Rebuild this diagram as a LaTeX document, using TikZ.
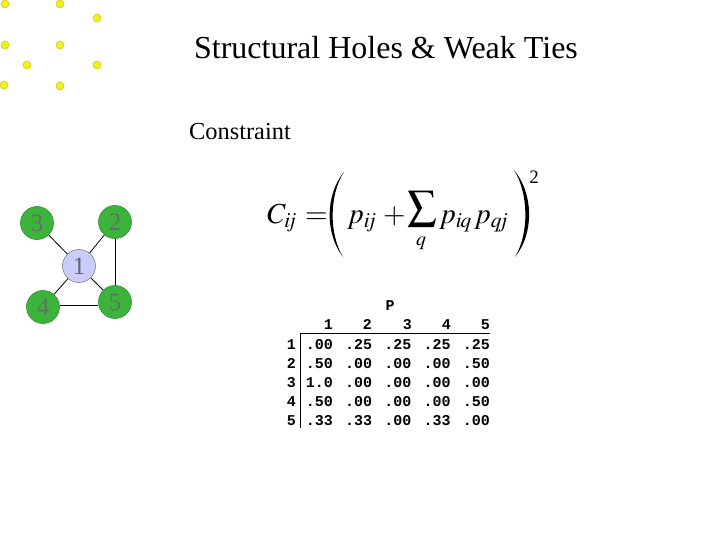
\documentclass[tikz,border=0pt]{standalone}
\usepackage{amsmath}
\usepackage{mathptmx}
\usepackage{fontspec}
\setmainfont{Liberation Serif}
\newfontfamily\tablefont{Liberation Mono}
\begin{document}
\begin{tikzpicture}[x=1pt,y=-1pt,
  dot/.style={circle,fill={rgb,255:red,240;green,240;blue,30},draw={rgb,255:red,205;green,205;blue,20},line width=0.6pt,inner sep=0pt,minimum size=8pt},
  gnode/.style={circle,fill={rgb,255:red,60;green,180;blue,60},draw={rgb,255:red,50;green,140;blue,50},line width=0.6pt,inner sep=0pt,minimum size=33pt,text={rgb,255:red,100;green,110;blue,100},font=\fontsize{25}{25}\selectfont},
  cnode/.style={circle,fill={rgb,255:red,204;green,204;blue,250},draw={rgb,255:red,130;green,130;blue,150},line width=0.6pt,inner sep=0pt,minimum size=33pt,text={rgb,255:red,100;green,100;blue,110},font=\fontsize{25}{25}\selectfont},
  edge/.style={draw=black,line width=0.8pt},
  mth/.style={inner sep=0pt,anchor=base west,font=\fontsize{29}{31}\selectfont},
  tab/.style={font=\tablefont\bfseries\fontsize{15}{15}\selectfont,anchor=base east,inner sep=0pt}]
\useasboundingbox (0,0) rectangle (720,540);
\fill[white] (0,0) rectangle (720,540);
% decorative dots
\foreach \i/\x/\y in {a/5/4,b/60/4,c/97/18,d/5/45,e/60/45,f/27/65,g/97/65,h/4/85,k/60/86}
  \node[dot] (dot\i) at (\x,\y) {};
% title
\node[font=\fontsize{32}{34}\selectfont,inner sep=0pt] (title) at (386,48) {Structural Holes \& Weak Ties};
\node[font=\fontsize{24.4}{26}\selectfont,inner sep=0pt] (constraint) at (240,132) {Constraint};
% graph
\node[gnode] (n3) at (37,223) {3};
\node[gnode] (n2) at (115,222) {2};
\node[cnode] (n1) at (79,266) {1};
\node[gnode] (n4) at (43,307) {4};
\node[gnode] (n5) at (115,302) {5};
\draw[edge] (n3) -- (n1);
\draw[edge] (n2) -- (n1);
\draw[edge] (n4) -- (n1);
\draw[edge] (n5) -- (n1);
\draw[edge] (n2) -- (n5);
\draw[edge] ([yshift=2pt]n4.east) -- ([yshift=-3pt]n5.west);
% formula
\node[mth] (fC) at (267,223) {$C_{i\mkern-3mu j}$};
\node[mth] (fEq) at (305,223) {$=$};
\fill (344,172) .. controls (325,195) and (325,234) .. (343,257)
      .. controls (329,234) and (329,195) .. (344,172);
\node[mth] (fP1) at (347,223) {$p_{i\mkern-3mu j}$};
\node[mth] (fPlus) at (383,223) {$+$};
\node[inner sep=0pt,font=\fontsize{29}{31}\selectfont] (fSum) at (422,209) {$\displaystyle\sum$};
\node[inner sep=0pt,font=\fontsize{20}{22}\selectfont] (fq) at (421,243) {$q$};
\node[mth] (fP2) at (439,223) {$p_{i\mkern-1mu q}$};
\node[mth] (fP3) at (474,223) {$p_{q\mkern-3mu j}$};
\fill (514,170) .. controls (534,194) and (534,234) .. (515,257)
      .. controls (529,234) and (529,194) .. (514,170);
\node[inner sep=0pt,font=\fontsize{19}{20}\selectfont] (fTwo) at (534,177) {2};
% table
\node[tab,anchor=base] (P) at (390,310) {P};
\foreach \c/\x in {1/333,2/372,3/412,4/451,5/490}
  \node[tab] (h\c) at (\x,329) {\c};
\foreach \r/\y/\vals in {1/349/{.00,.25,.25,.25,.25},2/368/{.50,.00,.00,.00,.50},3/387/{1.0,.00,.00,.00,.00},4/406/{.50,.00,.00,.00,.50},5/425/{.33,.33,.00,.33,.00}}{
  \node[tab] (r\r) at (296,\y) {\r};
  \foreach \v [count=\k] in \vals {
    \pgfmathsetmacro{\xx}{333+39.25*(\k-1)}
    \node[tab] (c\r\k) at (\xx,\y) {\v};
  }
}
\coordinate (vl1) at (300,333);
\coordinate (vl2) at (300,428);
\coordinate (hl1) at (300,333);
\coordinate (hl2) at (490,333);
\draw[line width=0.8pt] (vl1) -- (vl2);
\draw[line width=0.8pt] (hl1) -- (hl2);
\end{tikzpicture}
\end{document}
